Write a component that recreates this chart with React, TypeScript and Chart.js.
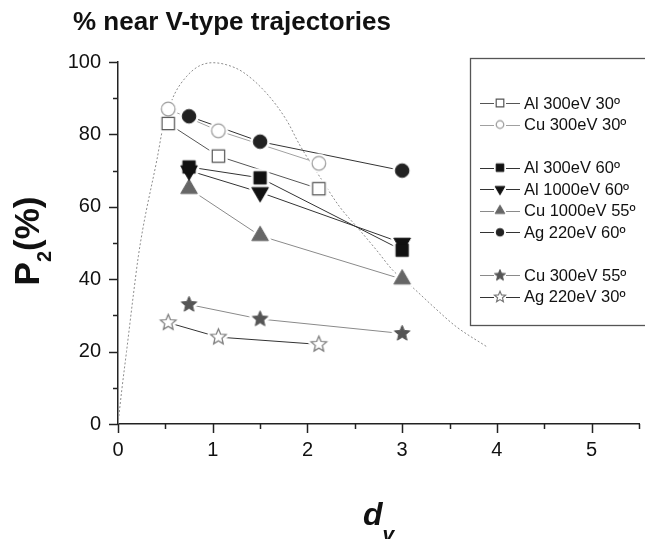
import React, { useEffect, useRef } from "react";
import { Chart, registerables } from "chart.js";

Chart.register(...registerables);

const FONT = "'Liberation Sans', Arial, Helvetica, sans-serif";

// ---- texts ----
const titleText = "% near V-type trajectories";
const yTitleMain = "P";
const yTitleSub = "2";
const yTitleTail = "(%)";
const xTitleMain = "d";
const xTitleSub = "v";

// ---- tick labels ----
const xTickLabels = [0, 1, 2, 3, 4, 5];
const yTickLabels = [0, 20, 40, 60, 80, 100];

// ---- x positions (d_v) ----
const dvA = [0.53, 1.06, 2.12];
const dvB = [0.75, 1.5, 3.0];

// ---- series values (P2 %) ----
const al300_30 = [83, 74, 65];
const cu300_30 = [87, 81, 72];
const al300_60 = [71, 68, 48];
const al1000_60 = [70, 64, 50];
const cu1000_55 = [65, 52, 40];
const ag220_60 = [85, 78, 70];
const cu300_55 = [33, 29, 25];
const ag220_30 = [28, 24, 22];

// ---- dotted reference curve ----
const curveX = [0, 0.04, 0.09, 0.16, 0.214, 0.26, 0.3, 0.41, 0.475, 0.53, 0.6, 0.72, 0.85, 1.0, 1.15, 1.32, 1.57, 1.78, 1.92, 2.13, 2.34, 2.55, 2.73, 2.9, 3.12, 3.33, 3.57, 3.89];
const curveY = [0, 9.4, 20, 35.2, 46.2, 53.6, 59.1, 72.9, 82, 86.7, 91.3, 95.9, 98.8, 99.8, 99.2, 97.2, 91.3, 83.9, 77, 68.3, 60, 53.6, 48, 42.5, 37.5, 32.4, 26.9, 21.4];

type Shape = "circle" | "square" | "triUp" | "triDown" | "star";

const series: {
  label: string; xs: number[]; ys: number[]; shape: Shape; fill: string; stroke: string; line: string; row: number;
}[] = [
  { label: "Al 300eV 30º", xs: dvA, ys: al300_30, shape: "square", fill: "#ffffff", stroke: "#555555", line: "#555555", row: 0 },
  { label: "Cu 300eV 30º", xs: dvA, ys: cu300_30, shape: "circle", fill: "#ffffff", stroke: "#9a9a9a", line: "#a0a0a0", row: 1 },
  { label: "Al 300eV 60º", xs: dvB, ys: al300_60, shape: "square", fill: "#111111", stroke: "#111111", line: "#333333", row: 3 },
  { label: "Al 1000eV 60º", xs: dvB, ys: al1000_60, shape: "triDown", fill: "#111111", stroke: "#111111", line: "#333333", row: 4 },
  { label: "Cu 1000eV 55º", xs: dvB, ys: cu1000_55, shape: "triUp", fill: "#666666", stroke: "#666666", line: "#8a8a8a", row: 5 },
  { label: "Ag 220eV 60º", xs: dvB, ys: ag220_60, shape: "circle", fill: "#222222", stroke: "#222222", line: "#333333", row: 6 },
  { label: "Cu 300eV 55º", xs: dvB, ys: cu300_55, shape: "star", fill: "#555555", stroke: "#555555", line: "#8a8a8a", row: 8 },
  { label: "Ag 220eV 30º", xs: dvA, ys: ag220_30, shape: "star", fill: "#ffffff", stroke: "#777777", line: "#333333", row: 9 },
];

const bigSize: Record<Shape, number> = { circle: 6.8, square: 6.2, triUp: 9.6, triDown: 9.6, star: 8.2 };
const smallSize: Record<Shape, number> = { circle: 3.8, square: 3.8, triUp: 5.6, triDown: 5.6, star: 5.8 };

function shapePath(ctx: CanvasRenderingContext2D, shape: Shape, r: number) {
  ctx.beginPath();
  if (shape === "circle") {
    ctx.arc(0, 0, r, 0, Math.PI * 2);
  } else if (shape === "square") {
    ctx.rect(-r, -r, 2 * r, 2 * r);
  } else if (shape === "triUp") {
    ctx.moveTo(0, -r);
    ctx.lineTo(r * 0.866, r * 0.5);
    ctx.lineTo(-r * 0.866, r * 0.5);
    ctx.closePath();
  } else if (shape === "triDown") {
    ctx.moveTo(0, r);
    ctx.lineTo(r * 0.866, -r * 0.5);
    ctx.lineTo(-r * 0.866, -r * 0.5);
    ctx.closePath();
  } else {
    for (let i = 0; i < 10; i++) {
      const a = -Math.PI / 2 + (i * Math.PI) / 5;
      const rr = i % 2 === 0 ? r : r * 0.45;
      const px = Math.cos(a) * rr;
      const py = Math.sin(a) * rr;
      if (i === 0) ctx.moveTo(px, py);
      else ctx.lineTo(px, py);
    }
    ctx.closePath();
  }
}

function makeMarker(shape: Shape, r: number, fill: string, stroke: string, halo: number) {
  const pad = halo + 2;
  const dim = Math.ceil(2 * (r + pad));
  const c = document.createElement("canvas");
  c.width = dim;
  c.height = dim;
  const ctx = c.getContext("2d")!;
  ctx.translate(dim / 2, dim / 2);
  ctx.lineJoin = "miter";
  shapePath(ctx, shape, r);
  if (halo > 0) {
    ctx.fillStyle = "#ffffff";
    ctx.strokeStyle = "#ffffff";
    ctx.lineWidth = halo * 2;
    ctx.lineJoin = "round";
    ctx.fill();
    ctx.stroke();
  } else {
    ctx.fillStyle = fill;
    ctx.fill();
    ctx.strokeStyle = stroke;
    ctx.lineWidth = fill === "#ffffff" ? 1.2 : 1;
    ctx.stroke();
  }
  return c;
}

export default function App() {
  const ref = useRef<HTMLCanvasElement | null>(null);

  useEffect(() => {
    const canvas = ref.current;
    if (!canvas) return;

    const markers = series.map((s) => makeMarker(s.shape, bigSize[s.shape], s.fill, s.stroke, 0));
    const halos = series.map((s) => makeMarker(s.shape, bigSize[s.shape], s.fill, s.stroke, 3));
    const legendMarkers = series.map((s) => makeMarker(s.shape, smallSize[s.shape], s.fill, s.stroke, 0));

    const datasets: any[] = [];
    datasets.push({
      label: "curve",
      data: curveX.map((x, i) => ({ x, y: curveY[i] })),
      showLine: true,
      borderColor: "#8c8c8c",
      borderWidth: 1,
      borderDash: [2, 2],
      pointRadius: 0,
      cubicInterpolationMode: "monotone",
      order: 30,
    });
    series.forEach((s, k) => {
      const data = s.xs.map((x, i) => ({ x, y: s.ys[i] }));
      datasets.push({
        label: s.label + " line",
        data,
        showLine: true,
        borderColor: s.line,
        borderWidth: 1,
        pointRadius: 0,
        order: 20,
      });
      datasets.push({
        label: s.label + " halo",
        data,
        showLine: false,
        pointStyle: halos[k],
        pointRadius: 5,
        pointHoverRadius: 5,
        order: 10,
      });
      datasets.push({
        label: s.label,
        data,
        showLine: false,
        pointStyle: markers[k],
        pointRadius: 5,
        pointHoverRadius: 5,
        order: 0,
      });
    });

    const decor = {
      id: "decor",
      afterDraw(chart: any) {
        const ctx: CanvasRenderingContext2D = chart.ctx;
        const xs = chart.scales.x;
        const ys = chart.scales.y;
        const area = chart.chartArea;
        ctx.save();

        // minor / major tick marks
        ctx.strokeStyle = "#222";
        ctx.lineWidth = 1.5;
        ys.ticks.forEach((t: any) => {
          const len = yTickLabels.includes(t.value) ? 9 : 5;
          const py = Math.round(ys.getPixelForValue(t.value)) + 0.5;
          ctx.beginPath();
          ctx.moveTo(area.left - len, py);
          ctx.lineTo(area.left, py);
          ctx.stroke();
        });
        xs.ticks.forEach((t: any) => {
          const len = xTickLabels.includes(t.value) ? 9 : 5;
          const px = Math.round(xs.getPixelForValue(t.value)) + 0.5;
          ctx.beginPath();
          ctx.moveTo(px, area.bottom);
          ctx.lineTo(px, area.bottom + len);
          ctx.stroke();
        });

        // title
        ctx.fillStyle = "#111";
        ctx.textBaseline = "alphabetic";
        ctx.textAlign = "left";
        ctx.font = `bold 26px ${FONT}`;
        ctx.fillText(titleText, 73, 30);

        // y title (rotated)
        ctx.save();
        const cy = (area.top + area.bottom) / 2 - 2;
        ctx.translate(39, cy);
        ctx.rotate(-Math.PI / 2);
        const fMain = `bold 35px ${FONT}`;
        const fSub = `bold 20px ${FONT}`;
        ctx.font = fMain;
        const wP = ctx.measureText(yTitleMain).width;
        const wT = ctx.measureText(yTitleTail).width;
        ctx.font = fSub;
        const wS = ctx.measureText(yTitleSub).width;
        let sx = -(wP + wS + wT) / 2;
        ctx.font = fMain;
        ctx.fillText(yTitleMain, sx, 0);
        sx += wP;
        ctx.font = fSub;
        ctx.fillText(yTitleSub, sx, 12);
        sx += wS;
        ctx.font = fMain;
        ctx.fillText(yTitleTail, sx, 0);
        ctx.restore();

        // x title
        const fXMain = `italic bold 32px ${FONT}`;
        const fXSub = `italic bold 21px ${FONT}`;
        ctx.font = fXMain;
        const wd = ctx.measureText(xTitleMain).width;
        ctx.font = fXSub;
        const wv = ctx.measureText(xTitleSub).width;
        const cx = (area.left + area.right) / 2;
        let tx = cx - (wd + wv) / 2;
        ctx.font = fXMain;
        ctx.fillText(xTitleMain, tx, 525);
        tx += wd;
        ctx.font = fXSub;
        ctx.fillText(xTitleSub, tx, 541);

        // legend box
        const bx = 470.5, by = 58.5, bw = 200, bh = 267;
        ctx.fillStyle = "#ffffff";
        ctx.fillRect(bx, by, bw, bh);
        ctx.strokeStyle = "#555";
        ctx.lineWidth = 1.3;
        ctx.strokeRect(bx, by, bw, bh);

        ctx.font = `16.5px ${FONT}`;
        ctx.textBaseline = "middle";
        series.forEach((s, k) => {
          const ry = 103 + s.row * 21.55;
          ctx.strokeStyle = s.line;
          ctx.lineWidth = 1;
          ctx.beginPath();
          ctx.moveTo(480, Math.round(ry) + 0.5);
          ctx.lineTo(520, Math.round(ry) + 0.5);
          ctx.stroke();
          const m = legendMarkers[k];
          ctx.fillStyle = "#fff";
          ctx.fillRect(494, ry - 7, 12, 14);
          ctx.drawImage(m, 500 - m.width / 2, ry - m.height / 2);
          ctx.fillStyle = "#111";
          ctx.fillText(s.label, 524, ry + 1);
        });

        ctx.restore();
      },
    };

    const chart = new Chart(canvas, {
      type: "scatter",
      data: { datasets },
      options: {
        animation: false,
        responsive: false,
        devicePixelRatio: 1,
        layout: { padding: { left: 0, top: 62, right: 6, bottom: 0 } },
        plugins: { legend: { display: false }, tooltip: { enabled: false }, title: { display: false } },
        events: [],
        scales: {
          x: {
            type: "linear",
            min: 0,
            max: 5.5,
            afterFit: (scale: any) => { scale.height = 115; },
            ticks: {
              stepSize: 0.5,
              autoSkip: false,
              maxRotation: 0,
              padding: 5,
              color: "#111",
              font: { family: FONT, size: 20 },
              callback: (v: any) => (xTickLabels.includes(Number(v)) ? String(v) : ""),
            },
            grid: { display: true, drawOnChartArea: false, drawTicks: true, tickLength: 9, tickColor: "rgba(0,0,0,0)" },
            border: { display: true, color: "#222", width: 1.5 },
          },
          y: {
            type: "linear",
            min: 0,
            max: 100,
            afterFit: (scale: any) => { scale.width = 118; },
            ticks: {
              stepSize: 10,
              autoSkip: false,
              padding: 8,
              color: "#111",
              font: { family: FONT, size: 20 },
              callback: (v: any) => (yTickLabels.includes(Number(v)) ? String(v) : ""),
            },
            grid: { display: true, drawOnChartArea: false, drawTicks: true, tickLength: 9, tickColor: "rgba(0,0,0,0)" },
            border: { display: true, color: "#222", width: 1.5 },
          },
        },
      },
      plugins: [decor],
    });

    return () => chart.destroy();
  }, []);

  return (
    <div style={{ position: "absolute", left: 0, top: 0, width: 645, height: 539, background: "#fff" }}>
      <canvas ref={ref} width={645} height={539} style={{ display: "block" }} />
    </div>
  );
}
